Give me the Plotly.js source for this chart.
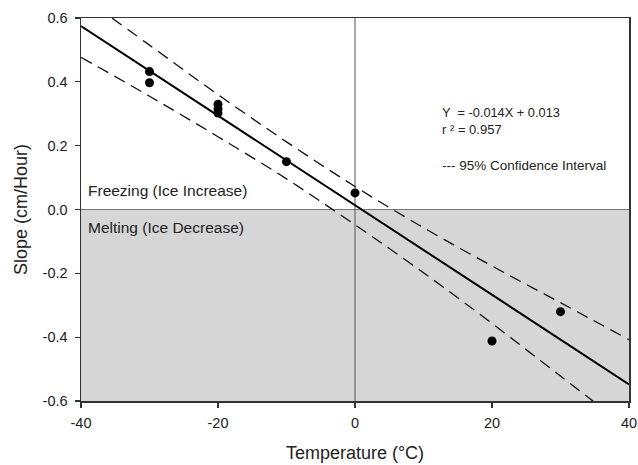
<!DOCTYPE html>
<html><head><meta charset="utf-8">
<script src="https://cdn.plot.ly/plotly-3.0.1.min.js"></script>
<style>body{margin:0;background:#fff}#c{width:638px;height:465px}</style>
</head><body><div id="c"></div>
<script>
const tempX = [-30, -30, -20, -20, -20, -10, 0, 20, 30];
const slopeY = [0.432, 0.397, 0.330, 0.315, 0.302, 0.150, 0.052, -0.412, -0.320];
const fitX = [-40, 40];
const fitY = [0.575, -0.548];
const ciX = [-40, -30, -20, -10, 0, 10, 20, 30, 40];
const ciUpper = [0.67, 0.515, 0.36, 0.212, 0.072, -0.057, -0.177, -0.292, -0.408];
const ciLower = [0.477, 0.355, 0.228, 0.096, -0.048, -0.198, -0.357, -0.522, -0.687];
const yTicks = [0.6, 0.4, 0.2, 0.0, -0.2, -0.4, -0.6];
const xTicks = [-40, -20, 0, 20, 40];

const F = 'Liberation Sans, Arial, sans-serif';
const traces = [
  {x: ciX, y: ciUpper, mode: 'lines', line: {color: '#111', width: 1.3, dash: '12px,7px', shape: 'spline'}, hoverinfo: 'skip'},
  {x: ciX, y: ciLower, mode: 'lines', line: {color: '#111', width: 1.3, dash: '12px,7px', shape: 'spline'}, hoverinfo: 'skip'},
  {x: fitX, y: fitY, mode: 'lines', line: {color: '#000', width: 2}},
  {x: tempX, y: slopeY, mode: 'markers', marker: {color: '#000', size: 9}}
];
const layout = {
  width: 638, height: 465,
  margin: {l: 81, r: 9, t: 18, b: 64},
  paper_bgcolor: '#fff', plot_bgcolor: '#fff',
  showlegend: false,
  font: {family: F, color: '#222', size: 14},
  xaxis: {range: [-40, 40], tickvals: xTicks, ticktext: xTicks.map(String),
    ticks: 'outside', ticklen: 5, tickwidth: 1.3, tickcolor: '#333', ticklabelstandoff: 3,
    showline: true, linecolor: '#333', linewidth: 1.5, mirror: true,
    showgrid: false, zeroline: false,
    title: {text: 'Temperature (°C)', font: {size: 18}, standoff: 16},
    tickfont: {size: 14.5}},
  yaxis: {range: [-0.6, 0.6], tickvals: yTicks, ticktext: yTicks.map(v => v.toFixed(1)),
    ticks: 'outside', ticklen: 5, tickwidth: 1.3, tickcolor: '#333', ticklabelstandoff: 4,
    showline: true, linecolor: '#333', linewidth: 1.5, mirror: true,
    showgrid: false, zeroline: false,
    title: {text: 'Slope (cm/Hour)', font: {size: 18}, standoff: 10},
    tickfont: {size: 14.5}},
  shapes: [
    {type: 'rect', xref: 'paper', yref: 'y', x0: 0, x1: 1, y0: -0.6, y1: 0, fillcolor: '#d6d6d6', line: {width: 0}, layer: 'below'},
    {type: 'line', xref: 'paper', yref: 'y', x0: 0, x1: 1, y0: 0, y1: 0, line: {color: '#777', width: 1.2}, layer: 'below'},
    {type: 'line', xref: 'x', yref: 'paper', x0: 0, x1: 0, y0: 0, y1: 1, line: {color: '#555', width: 1}, layer: 'below'}
  ],
  annotations: [
    {xref: 'paper', yref: 'y', x: 0.01, y: 0.061, xanchor: 'left', yanchor: 'middle', text: 'Freezing (Ice Increase)', showarrow: false, font: {size: 15.5}},
    {xref: 'paper', yref: 'y', x: 0.01, y: -0.055, xanchor: 'left', yanchor: 'middle', text: 'Melting (Ice Decrease)', showarrow: false, font: {size: 15.5}},
    {xref: 'paper', yref: 'paper', x: 0.655, y: 0.752, xanchor: 'left', yanchor: 'middle', text: 'Y  = -0.014X + 0.013', showarrow: false, font: {size: 12.8}},
    {xref: 'paper', yref: 'paper', x: 0.655, y: 0.708, xanchor: 'left', yanchor: 'middle', text: 'r ² = 0.957', showarrow: false, font: {size: 13}},
    {xref: 'paper', yref: 'paper', x: 0.655, y: 0.614, xanchor: 'left', yanchor: 'middle', text: '--- 95% Confidence Interval', showarrow: false, font: {size: 13.5}}
  ]
};
Plotly.newPlot('c', traces, layout, {displayModeBar: false, staticPlot: true});
</script></body></html>
